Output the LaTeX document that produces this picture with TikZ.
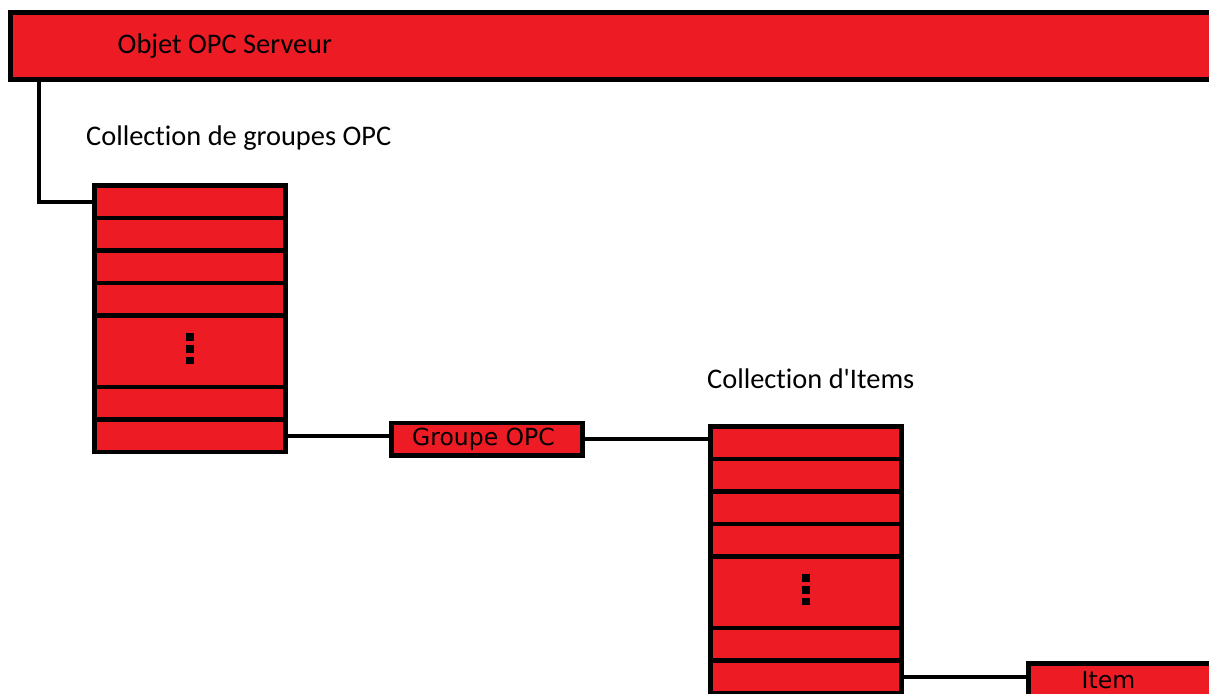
\documentclass[tikz,border=0pt]{standalone}
\usepackage{fontspec}
\setmainfont{Carlito}[Ligatures={TeXOff,NoCommon}]
\newfontfamily\dejavu{DejaVu Sans}
\definecolor{opcred}{HTML}{ED1C24}

% One collection: six plain cells and a taller cell holding three dots.
% #1 name prefix, #2 centre x, #3 y of the top border line
\newcommand\opcstack[3]{%
  \foreach \n/\dy in {1/16.25,2/48.75,3/81.25,4/113.75,6/217.75,7/250.25}
    \node[cell] (#1\n) at (#2,#3+\dy) {};
  \node[dotcell] (#15) at (#2,#3+165.75) {};
  \foreach \k/\dd in {a/-14.05,b/-2.45,c/9.25}
    \node[dotsq] (#1\k) at (#2,#3+165.75+\dd) {};
}

\begin{document}
\begin{tikzpicture}[x=1pt,y=-1pt,
  redbox/.style={draw=black, fill=opcred, line width=4.8pt, inner sep=0pt},
  cell/.style={redbox, minimum width=191pt, minimum height=32.5pt},
  dotcell/.style={redbox, minimum width=191pt, minimum height=71.5pt},
  dotsq/.style={fill=black, inner sep=0pt, minimum size=7.7pt},
  link/.style={line width=4.2pt},
  caption/.style={anchor=base west, inner sep=0pt, font=\fontsize{28.4}{32}\selectfont},
  boxlabel/.style={anchor=base west, inner sep=0pt, font=\dejavu\fontsize{23.5}{28}\selectfont},
]
\clip (0,0) rectangle (1209,693);

% server object bar, running off the right edge
\node[redbox, minimum width=1300pt, minimum height=66.7pt] (srv) at (660.5,45.85) {};

% group collection and item collection
\opcstack{g}{190}{185.5}
\opcstack{i}{806}{426.5}

% single group and single item
\node[redbox, minimum width=190.7pt, minimum height=32.5pt] (grp) at (487.2,439.2) {};
\node[redbox, minimum width=300pt, minimum height=80pt] (item) at (1178.5,703.5) {};

% connectors
\coordinate (drop) at (38.7,0);
\draw[link] (srv.south -| drop) |- (g1.west);
\draw[link] (g7.east) -- (g7.east -| grp.west);
\draw[link] (grp.east) -- (grp.east -| i1.west);
\draw[link] (i7.east) -- (i7.east -| item.west);

% texts
\node[caption] (srvlabel) at (117.5,53.3) {Objet OPC Serveur};
\node[caption] (grouplistlabel) at (86,145.7) {Collection de groupes OPC};
\node[caption] (itemlistlabel) at (707,388.3) {Collection d'Items};
\node[boxlabel] (grplabel) at (412,445.7) {Groupe OPC};
\node[boxlabel] (itemlabel) at (1081.5,688) {Item};
\end{tikzpicture}
\end{document}
